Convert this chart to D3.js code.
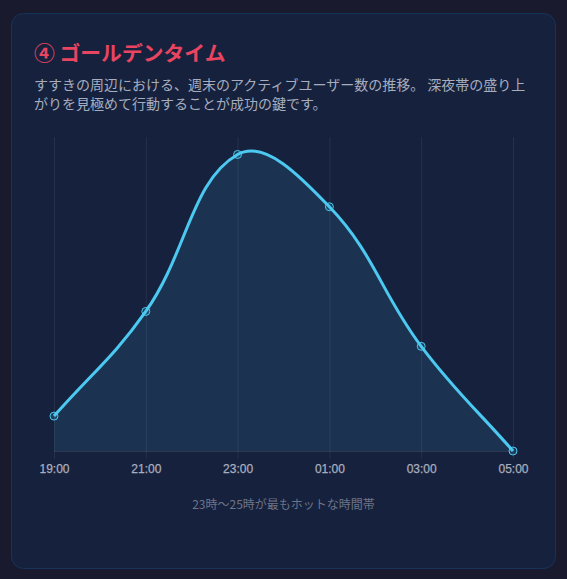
<!DOCTYPE html>
<html>
<head>
<meta charset="utf-8">
<script src="https://cdn.jsdelivr.net/npm/d3@7"></script>
<style>
  html, body { margin: 0; padding: 0; background: #1a1a2e; }
  svg { display: block; }
</style>
</head>
<body>
<svg id="chart"></svg>
<script>
const width = 567;
const height = 579;

// data
const hours = ['19:00', '21:00', '23:00', '01:00', '03:00', '05:00'];
const activeUsers = [10, 40, 85, 70, 30, 0];
const yTicksMax = 90;

const titleText = '④ ゴールデンタイム';
const subtitleLines = [
  'すすきの周辺における、週末のアクティブユーザー数の推移。 深夜帯の盛り上',
  'がりを見極めて行動することが成功の鍵です。'
];
const axisTitle = '23時〜25時が最もホットな時間帯';

const jp = '"Noto Sans CJK JP", "Noto Sans", sans-serif';

// same spline as chart.js (tension 0.4)
function SplineCurve(context) { this._context = context; }
SplineCurve.prototype = {
  areaStart() { this._line = 0; },
  areaEnd() { this._line = NaN; },
  lineStart() { this._pts = []; },
  point(x, y) { this._pts.push([+x, +y]); },
  lineEnd() {
    const p = this._pts;
    const t = 0.4;
    const ctx = this._context;
    const cps = p.map((cur, i) => {
      const prev = p[i - 1] || cur;
      const next = p[i + 1] || cur;
      const d01 = Math.hypot(cur[0] - prev[0], cur[1] - prev[1]);
      const d12 = Math.hypot(next[0] - cur[0], next[1] - cur[1]);
      let s01 = d01 / (d01 + d12);
      let s12 = d12 / (d01 + d12);
      if (isNaN(s01)) s01 = 0;
      if (isNaN(s12)) s12 = 0;
      const fa = t * s01, fb = t * s12;
      return {
        prev: [cur[0] - fa * (next[0] - prev[0]), cur[1] - fa * (next[1] - prev[1])],
        next: [cur[0] + fb * (next[0] - prev[0]), cur[1] + fb * (next[1] - prev[1])]
      };
    });
    p.forEach((pt, i) => {
      if (i === 0) {
        this._line ? ctx.lineTo(pt[0], pt[1]) : ctx.moveTo(pt[0], pt[1]);
      } else {
        const a = cps[i - 1].next, b = cps[i].prev;
        ctx.bezierCurveTo(a[0], a[1], b[0], b[1], pt[0], pt[1]);
      }
    });
    if (this._line || (this._line !== 0 && p.length === 1)) ctx.closePath();
    this._line = 1 - this._line;
  }
};
const splineCurve = (context) => new SplineCurve(context);

const svg = d3.select('#chart')
  .attr('width', width)
  .attr('height', height);

// card
svg.append('rect')
  .attr('x', 11.5)
  .attr('y', 13.5)
  .attr('width', 544)
  .attr('height', 555)
  .attr('rx', 12)
  .attr('fill', '#16213e')
  .attr('stroke', '#163459')
  .attr('stroke-width', 1);

svg.append('text')
  .text(titleText)
  .attr('x', 34)
  .attr('y', 61)
  .attr('fill', '#e94560')
  .attr('font-family', jp)
  .attr('font-weight', 700)
  .attr('font-size', 20.8);

svg.append('g')
  .selectAll('text')
  .data(subtitleLines)
  .enter()
  .append('text')
  .text((d) => d)
  .attr('x', 34)
  .attr('y', (d, i) => 89.5 + i * 19.5)
  .attr('fill', '#a5adbf')
  .attr('font-family', jp)
  .attr('font-size', 14);

// scales
const xscale = d3.scalePoint()
  .domain(hours)
  .range([54, 513]);

const yscale = d3.scaleLinear()
  .domain([0, yTicksMax])
  .range([451, 137]);

// vertical grid
svg.append('g')
  .selectAll('line')
  .data(hours)
  .enter()
  .append('line')
  .attr('x1', (d) => xscale(d) + 0.5)
  .attr('x2', (d) => xscale(d) + 0.5)
  .attr('y1', yscale(yTicksMax))
  .attr('y2', yscale(0) + 8)
  .attr('stroke', 'rgba(255,255,255,0.07)')
  .attr('stroke-width', 1);

// area + line
const area = d3.area()
  .x((d, i) => xscale(hours[i]))
  .y0(yscale(0))
  .y1((d) => yscale(d))
  .curve(splineCurve);

svg.append('path')
  .datum(activeUsers)
  .attr('d', area)
  .attr('fill', 'rgba(76,201,240,0.11)');

// axis border
svg.append('line')
  .attr('x1', xscale(hours[0]))
  .attr('x2', xscale(hours[hours.length - 1]))
  .attr('y1', yscale(0) + 0.5)
  .attr('y2', yscale(0) + 0.5)
  .attr('stroke', 'rgba(255,255,255,0.1)');

const line = d3.line()
  .x((d, i) => xscale(hours[i]))
  .y((d) => yscale(d))
  .curve(splineCurve);

svg.append('path')
  .datum(activeUsers)
  .attr('d', line)
  .attr('fill', 'none')
  .attr('stroke', '#4cc9f0')
  .attr('stroke-width', 3);

svg.append('g')
  .selectAll('circle')
  .data(activeUsers)
  .enter()
  .append('circle')
  .attr('cx', (d, i) => xscale(hours[i]))
  .attr('cy', (d) => yscale(d))
  .attr('r', 4)
  .attr('fill', 'rgba(76,201,240,0.15)')
  .attr('stroke', '#4cc9f0')
  .attr('stroke-width', 1);

// x axis labels
const bottomAxis = d3.axisBottom(xscale).tickSize(0).tickPadding(0);
const axisG = svg.append('g')
  .attr('transform', `translate(0, ${yscale(0)})`)
  .call(bottomAxis);
axisG.select('.domain').remove();
axisG.selectAll('text')
  .attr('dy', null)
  .attr('y', 22)
  .attr('fill', '#a9aebd')
  .attr('stroke', '#a9aebd')
  .attr('stroke-width', 0.25)
  .attr('font-family', '"Liberation Sans", Arial, sans-serif')
  .attr('font-size', 12);

svg.append('text')
  .text(axisTitle)
  .attr('x', (xscale(hours[0]) + xscale(hours[hours.length - 1])) / 2)
  .attr('y', 509)
  .attr('text-anchor', 'middle')
  .attr('fill', '#6e7487')
  .attr('font-family', jp)
  .attr('font-size', 12);
</script>
</body>
</html>
